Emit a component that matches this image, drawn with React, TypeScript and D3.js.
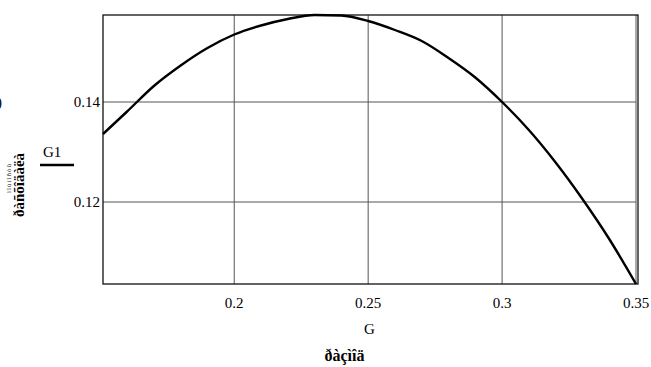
import React, { useEffect, useRef } from 'react'
import * as d3 from 'd3'

// values
const gValues = [0.151, 0.16, 0.17, 0.18, 0.19, 0.2, 0.21, 0.22, 0.23, 0.24, 0.25, 0.26, 0.27, 0.28, 0.29, 0.3, 0.31, 0.32, 0.33, 0.34, 0.35]
const g1Values = [0.1336, 0.1381, 0.1432, 0.1473, 0.1508, 0.1535, 0.1553, 0.1566, 0.1574, 0.1573, 0.1562, 0.1544, 0.1522, 0.1488, 0.1449, 0.14, 0.1344, 0.1279, 0.1206, 0.1126, 0.1036]
const xTicks = [0.2, 0.25, 0.3, 0.35]
const yTicks = [0.12, 0.14]
const xTitle = 'G'
const yTitle = 'G1'
const xCaption = 'ðàçìîä'
const yCaption = 'ðàñõîäàëà'
const yCaptionSmall = 'ìîùíîñòü'

const width = 651
const height = 367
const margin = { top: 15, right: 15, bottom: 83, left: 103 }

const App = () => {
  const ref = useRef<SVGSVGElement>(null)

  useEffect(() => {
    const svg = d3.select(ref.current)
    svg.selectAll('*').remove()
    svg.attr('font-family', 'Liberation Serif')
    const w = width - margin.left - margin.right
    const h = height - margin.top - margin.bottom

    const x = d3.scaleLinear().domain([0.151, 0.35]).range([0, w])
    const y = d3.scaleLinear().domain([0.1036, 0.1574]).range([h, 0])

    const g = svg.append('g').attr('transform', `translate(${margin.left},${margin.top})`)

    // grid
    g.selectAll('.gx').data(xTicks).enter().append('line')
      .attr('x1', d => x(d)).attr('x2', d => x(d)).attr('y1', 0).attr('y2', h)
      .attr('stroke', '#555').attr('stroke-width', 1)
    g.selectAll('.gy').data(yTicks).enter().append('line')
      .attr('x1', 0).attr('x2', w).attr('y1', d => y(d)).attr('y2', d => y(d))
      .attr('stroke', '#555').attr('stroke-width', 1)

    // frame
    g.append('rect').attr('x', 0).attr('y', 0).attr('width', w + 2).attr('height', h)
      .attr('fill', 'none').attr('stroke', '#111').attr('stroke-width', 1.3)

    // curve
    const line = d3.line<number>().x((d, i) => x(gValues[i])).y(d => y(d)).curve(d3.curveMonotoneX)
    g.append('path').datum(g1Values).attr('d', line)
      .attr('fill', 'none').attr('stroke', '#000').attr('stroke-width', 2.4)

    // tick labels
    g.selectAll('.tx').data(xTicks).enter().append('text')
      .attr('x', d => x(d)).attr('y', h + 24).attr('text-anchor', 'middle')
      .attr('font-size', 15).text(d => String(d))
    g.selectAll('.ty').data(yTicks).enter().append('text')
      .attr('x', -3).attr('y', d => y(d) + 5).attr('text-anchor', 'end')
      .attr('font-size', 15).text(d => String(d))

    // axis titles
    g.append('text').attr('x', w / 2).attr('y', h + 50).attr('text-anchor', 'middle')
      .attr('font-size', 15).text(xTitle)
    g.append('text').attr('x', w / 2 - 25).attr('y', h + 77).attr('text-anchor', 'middle')
      .attr('font-size', 16).attr('font-weight', 'bold').text(xCaption)

    svg.append('text').attr('x', 43).attr('y', 157)
      .attr('font-size', 15).text(yTitle)
    svg.append('line').attr('x1', 40).attr('x2', 74).attr('y1', 165).attr('y2', 165)
      .attr('stroke', '#000').attr('stroke-width', 2.4)

    svg.append('text').attr('transform', 'translate(24,185) rotate(-90)').attr('text-anchor', 'middle')
      .attr('font-size', 15).attr('font-weight', 'bold').text(yCaption)
    svg.append('text').attr('transform', 'translate(11,178) rotate(-90)').attr('text-anchor', 'middle')
      .attr('font-size', 7).attr('letter-spacing', 1).text(yCaptionSmall)

    svg.append('text').attr('x', -3).attr('y', 107)
      .attr('font-size', 15).text(')')
  })

  return <svg ref={ref} width={width} height={height} style={{ position: 'absolute', left: 0, top: 0 }} />
}

export default App
